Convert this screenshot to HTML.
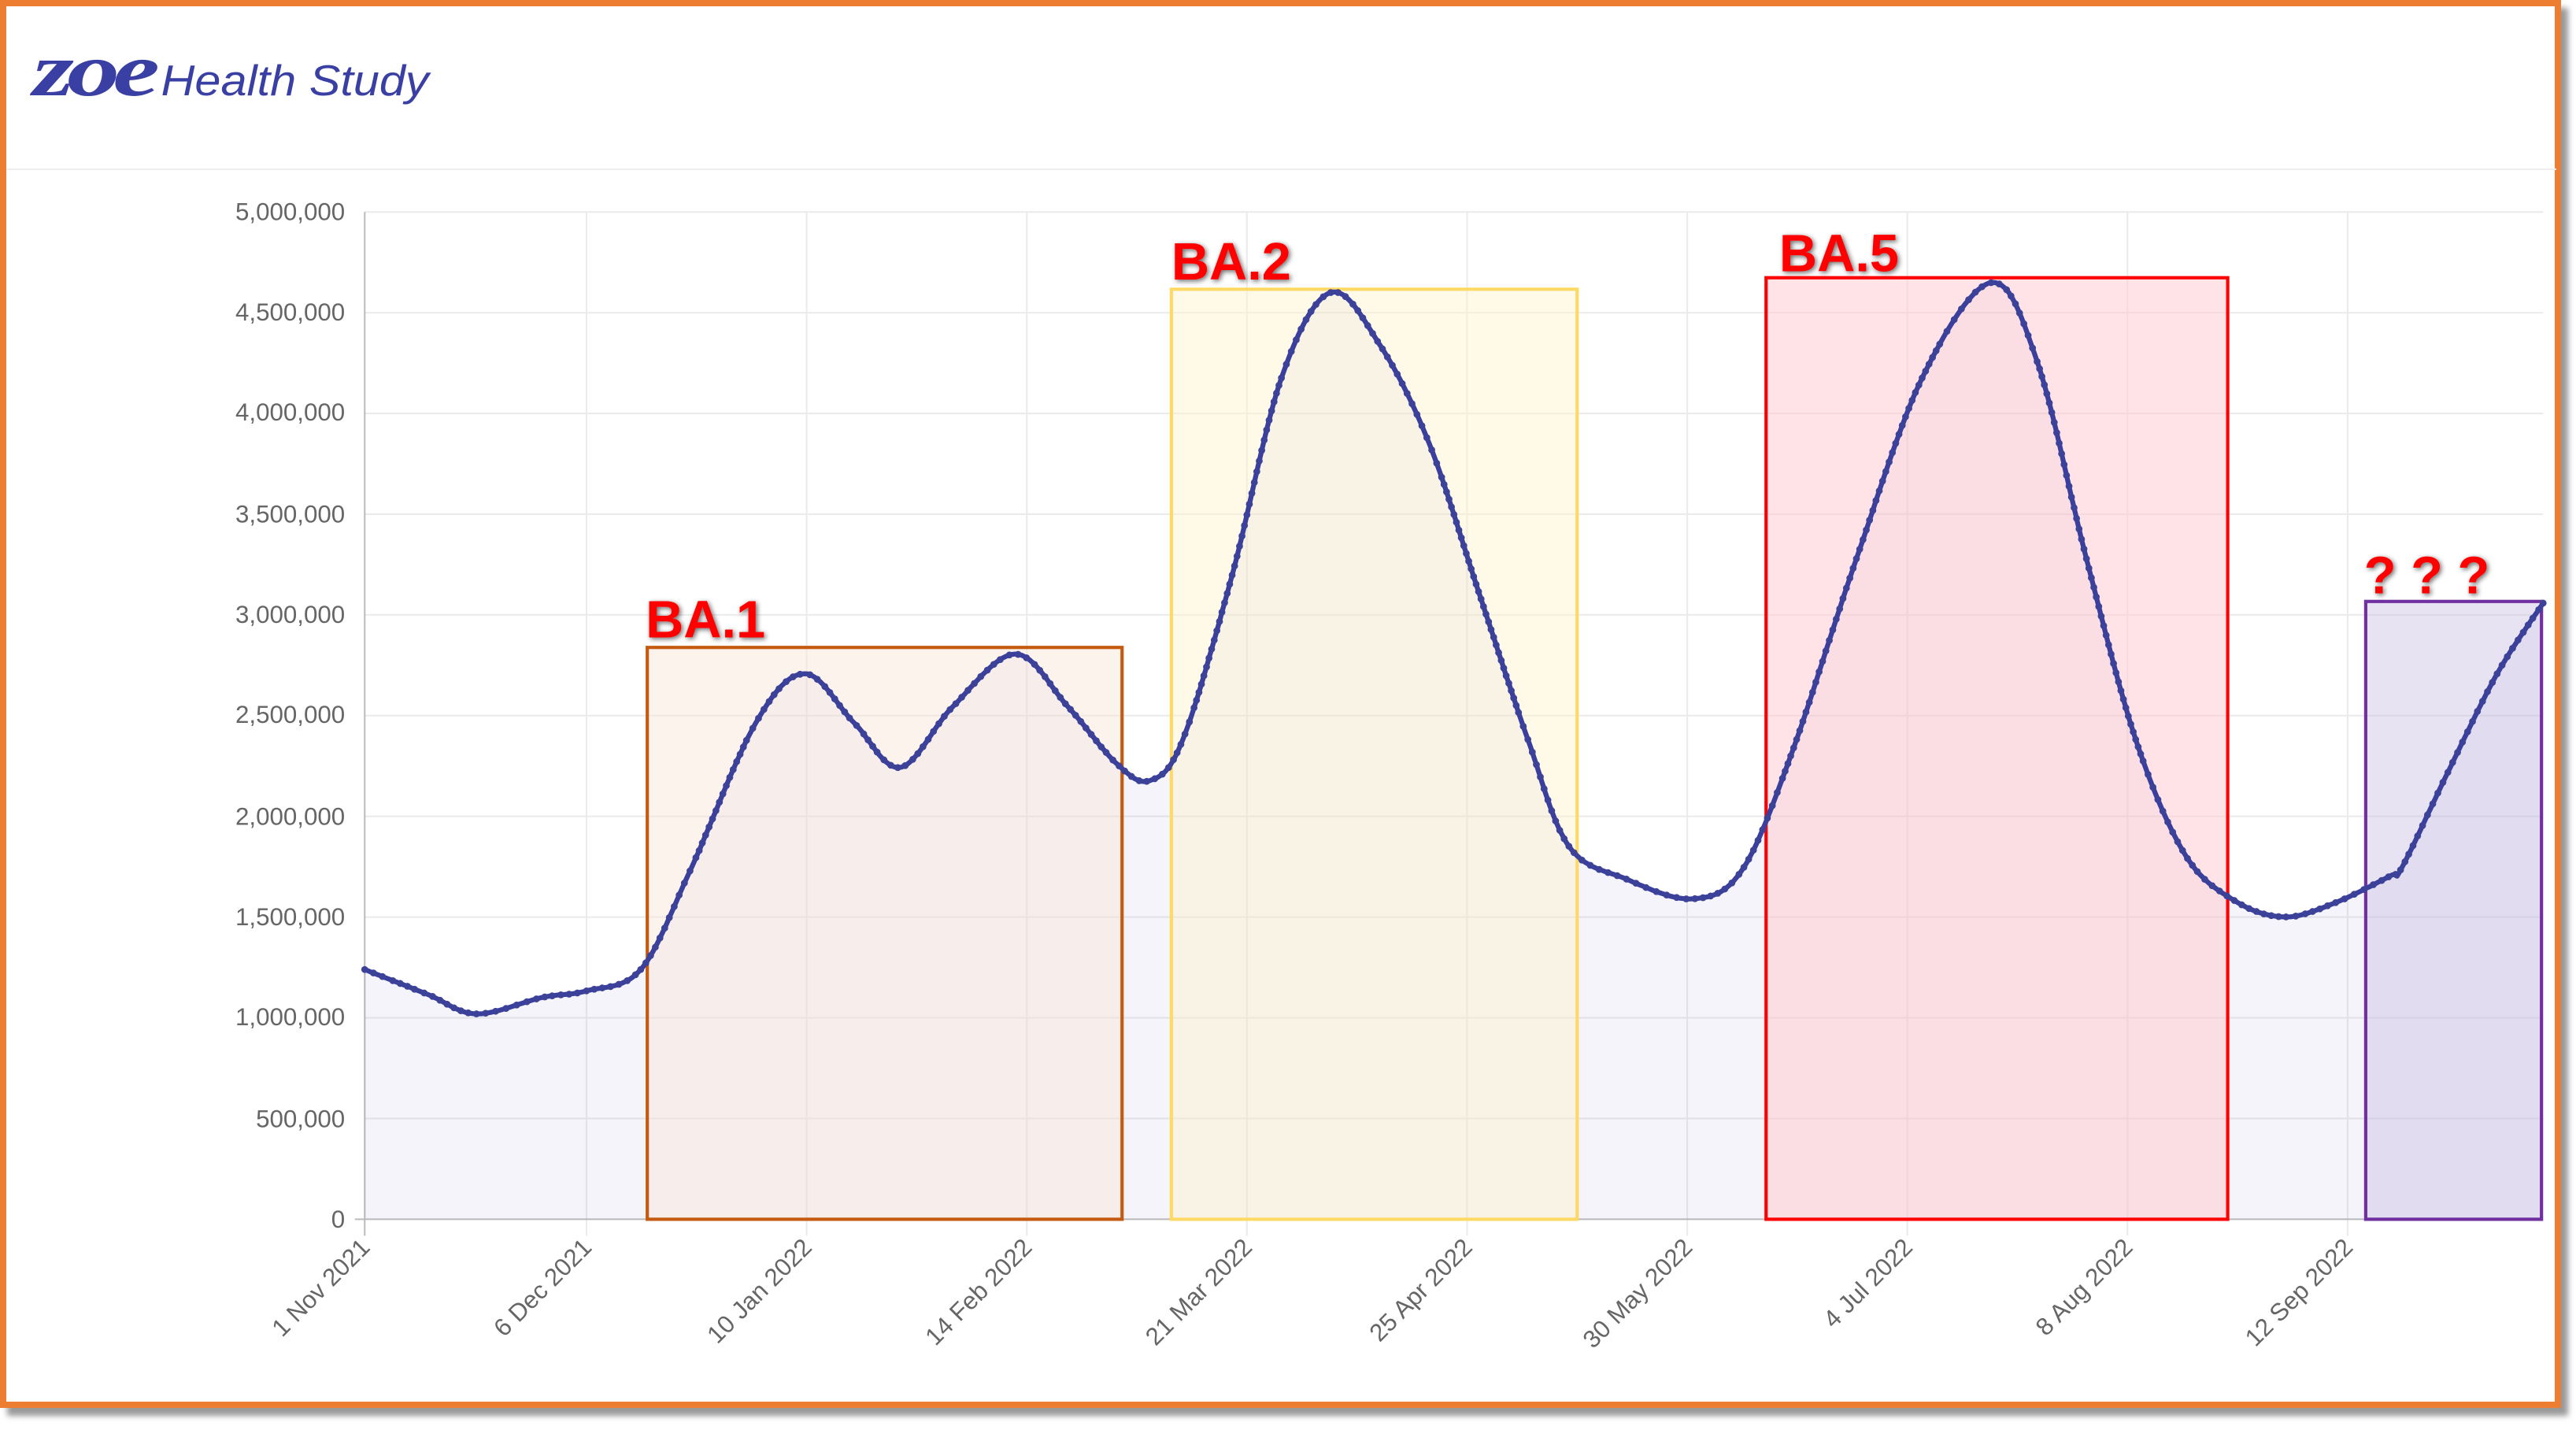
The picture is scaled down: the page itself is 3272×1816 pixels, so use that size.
<!DOCTYPE html>
<html><head><meta charset="utf-8"><style>
html,body{margin:0;padding:0;background:#fff;width:3272px;height:1816px;overflow:hidden}
#frame{position:absolute;left:0;top:0;width:3237px;height:1772px;border:8px solid #ed7d31;box-shadow:9px 10px 7px #9a9a9a;background:#fff}
svg{position:absolute;left:0;top:0}
</style></head><body>
<div id="frame"></div>
<svg width="3272" height="1816" viewBox="0 0 1568 870.23" xmlns="http://www.w3.org/2000/svg" font-family="Liberation Sans, sans-serif">
<text x="20" y="58" font-size="46" font-weight="bold" font-style="italic" fill="#3a3fa3" font-family="Liberation Serif, serif" letter-spacing="-3" textLength="73" lengthAdjust="spacingAndGlyphs">zoe</text>
<text x="98" y="58" font-size="26" font-style="italic" fill="#3a3fa3" textLength="163" lengthAdjust="spacingAndGlyphs">Health Study</text>
<line x1="4" y1="103" x2="1556" y2="103" stroke="#eee" stroke-width="1"/>
<g stroke="#ebebeb" stroke-width="1">
<line x1="222" y1="129" x2="1548" y2="129"/><line x1="222" y1="190.3" x2="1548" y2="190.3"/><line x1="222" y1="251.6" x2="1548" y2="251.6"/><line x1="222" y1="312.9" x2="1548" y2="312.9"/><line x1="222" y1="374.2" x2="1548" y2="374.2"/><line x1="222" y1="435.5" x2="1548" y2="435.5"/><line x1="222" y1="496.8" x2="1548" y2="496.8"/><line x1="222" y1="558.1" x2="1548" y2="558.1"/><line x1="222" y1="619.4" x2="1548" y2="619.4"/><line x1="222" y1="680.7" x2="1548" y2="680.7"/>
<line x1="357" y1="129" x2="357" y2="752"/><line x1="491" y1="129" x2="491" y2="752"/><line x1="625" y1="129" x2="625" y2="752"/><line x1="759" y1="129" x2="759" y2="752"/><line x1="893" y1="129" x2="893" y2="752"/><line x1="1027" y1="129" x2="1027" y2="752"/><line x1="1161" y1="129" x2="1161" y2="752"/><line x1="1295" y1="129" x2="1295" y2="752"/><line x1="1429" y1="129" x2="1429" y2="752"/>
</g>
<line x1="222" y1="129" x2="222" y2="752" stroke="#bbb"/>
<line x1="216" y1="742" x2="1548" y2="742" stroke="#bbb"/>
<g font-size="15" fill="#666" text-anchor="end">
<text x="210" y="134">5,000,000</text><text x="210" y="195">4,500,000</text><text x="210" y="256">4,000,000</text><text x="210" y="318">3,500,000</text><text x="210" y="379">3,000,000</text><text x="210" y="440">2,500,000</text><text x="210" y="502">2,000,000</text><text x="210" y="563">1,500,000</text><text x="210" y="624">1,000,000</text><text x="210" y="686">500,000</text><text x="210" y="747">0</text>
</g>
<g font-size="15" fill="#666" text-anchor="end">
<text transform="translate(226,760) rotate(-45)">1 Nov 2021</text>
<text transform="translate(361,760) rotate(-45)">6 Dec 2021</text>
<text transform="translate(495,760) rotate(-45)">10 Jan 2022</text>
<text transform="translate(629,760) rotate(-45)">14 Feb 2022</text>
<text transform="translate(763,760) rotate(-45)">21 Mar 2022</text>
<text transform="translate(897,760) rotate(-45)">25 Apr 2022</text>
<text transform="translate(1031,760) rotate(-45)">30 May 2022</text>
<text transform="translate(1165,760) rotate(-45)">4 Jul 2022</text>
<text transform="translate(1299,760) rotate(-45)">8 Aug 2022</text>
<text transform="translate(1433,760) rotate(-45)">12 Sep 2022</text>
</g>
<path id="area" fill="#3c3caa" fill-opacity="0.06" d=""/>
<rect x="394" y="394" width="289" height="348" fill="#fbe5d6" fill-opacity="0.45" stroke="#c55a11" stroke-width="2"/>
<rect x="713" y="176" width="247" height="566" fill="#fff2cc" fill-opacity="0.45" stroke="#ffd966" stroke-width="2"/>
<rect x="1075" y="169" width="281" height="573" fill="#ffc7ce" fill-opacity="0.5" stroke="#ff0000" stroke-width="2"/>
<rect x="1440" y="366" width="107" height="376" fill="#c5b8e0" fill-opacity="0.4" stroke="#7030a0" stroke-width="2"/>
<path id="line" fill="none" stroke="#3a3f9e" stroke-width="3" stroke-linejoin="round" d=""/>
<g id="dots" fill="#3d4299"></g>
<defs><filter id="sh" x="-20%" y="-30%" width="140%" height="160%"><feGaussianBlur in="SourceAlpha" stdDeviation="1.5"/><feOffset dx="1" dy="1"/><feComponentTransfer><feFuncA type="linear" slope="0.6"/></feComponentTransfer><feMerge><feMergeNode/><feMergeNode in="SourceGraphic"/></feMerge></filter></defs>
<g font-size="32" font-weight="bold" fill="#ff0000" filter="url(#sh)" font-family="Liberation Sans Narrow, Liberation Sans, sans-serif">
<text x="393" y="388">BA.1</text>
<text x="713" y="170">BA.2</text>
<text x="1083" y="165">BA.5</text>
<text x="1439" y="361">? ? ?</text>
</g>
</svg>
<script>
var P=[[222,590],[260,605],[290,617],[330,607],[357,603],[390,590],[420,530],[460,440],[490,410],[520,440],[548,467],[580,430],[618,398],[650,430],[680,465],[700,475],[720,450],[750,350],[780,230],[810,178],[840,210],[870,270],[900,360],[930,450],[955,515],[990,535],[1030,547],[1060,530],[1090,460],[1130,340],[1170,230],[1212,172],[1240,220],[1270,340],[1300,450],[1330,520],[1360,548],[1390,558],[1420,550],[1455,533],[1462,528],[1490,470],[1520,410],[1548,367]];
var pts=[];
for(var i=0;i<P.length-1;i++){var p0=P[Math.max(i-1,0)],p1=P[i],p2=P[i+1],p3=P[Math.min(i+2,P.length-1)];
for(var t=0;t<1;t+=0.05){var t2=t*t,t3=t2*t;
var x=0.5*((2*p1[0])+(-p0[0]+p2[0])*t+(2*p0[0]-5*p1[0]+4*p2[0]-p3[0])*t2+(-p0[0]+3*p1[0]-3*p2[0]+p3[0])*t3);
var y=0.5*((2*p1[1])+(-p0[1]+p2[1])*t+(2*p0[1]-5*p1[1]+4*p2[1]-p3[1])*t2+(-p0[1]+3*p1[1]-3*p2[1]+p3[1])*t3);
pts.push([x,y]);}}
pts.push(P[P.length-1]);
var d="M"+pts.map(function(p){return p[0].toFixed(1)+","+p[1].toFixed(1)}).join(" L");
document.getElementById("line").setAttribute("d",d);
document.getElementById("area").setAttribute("d",d+" L1548,742 L222,742 Z");
var g=document.getElementById("dots"),acc=0,h="";
for(var k=0;k<pts.length;k++){if(k>0){var dx=pts[k][0]-pts[k-1][0],dy=pts[k][1]-pts[k-1][1];acc+=Math.sqrt(dx*dx+dy*dy);}
if(k==0||acc>=4.5){acc=0;h+='<circle cx="'+pts[k][0].toFixed(1)+'" cy="'+pts[k][1].toFixed(1)+'" r="2.1"/>';}}
g.innerHTML=h;
</script>
</body></html>
